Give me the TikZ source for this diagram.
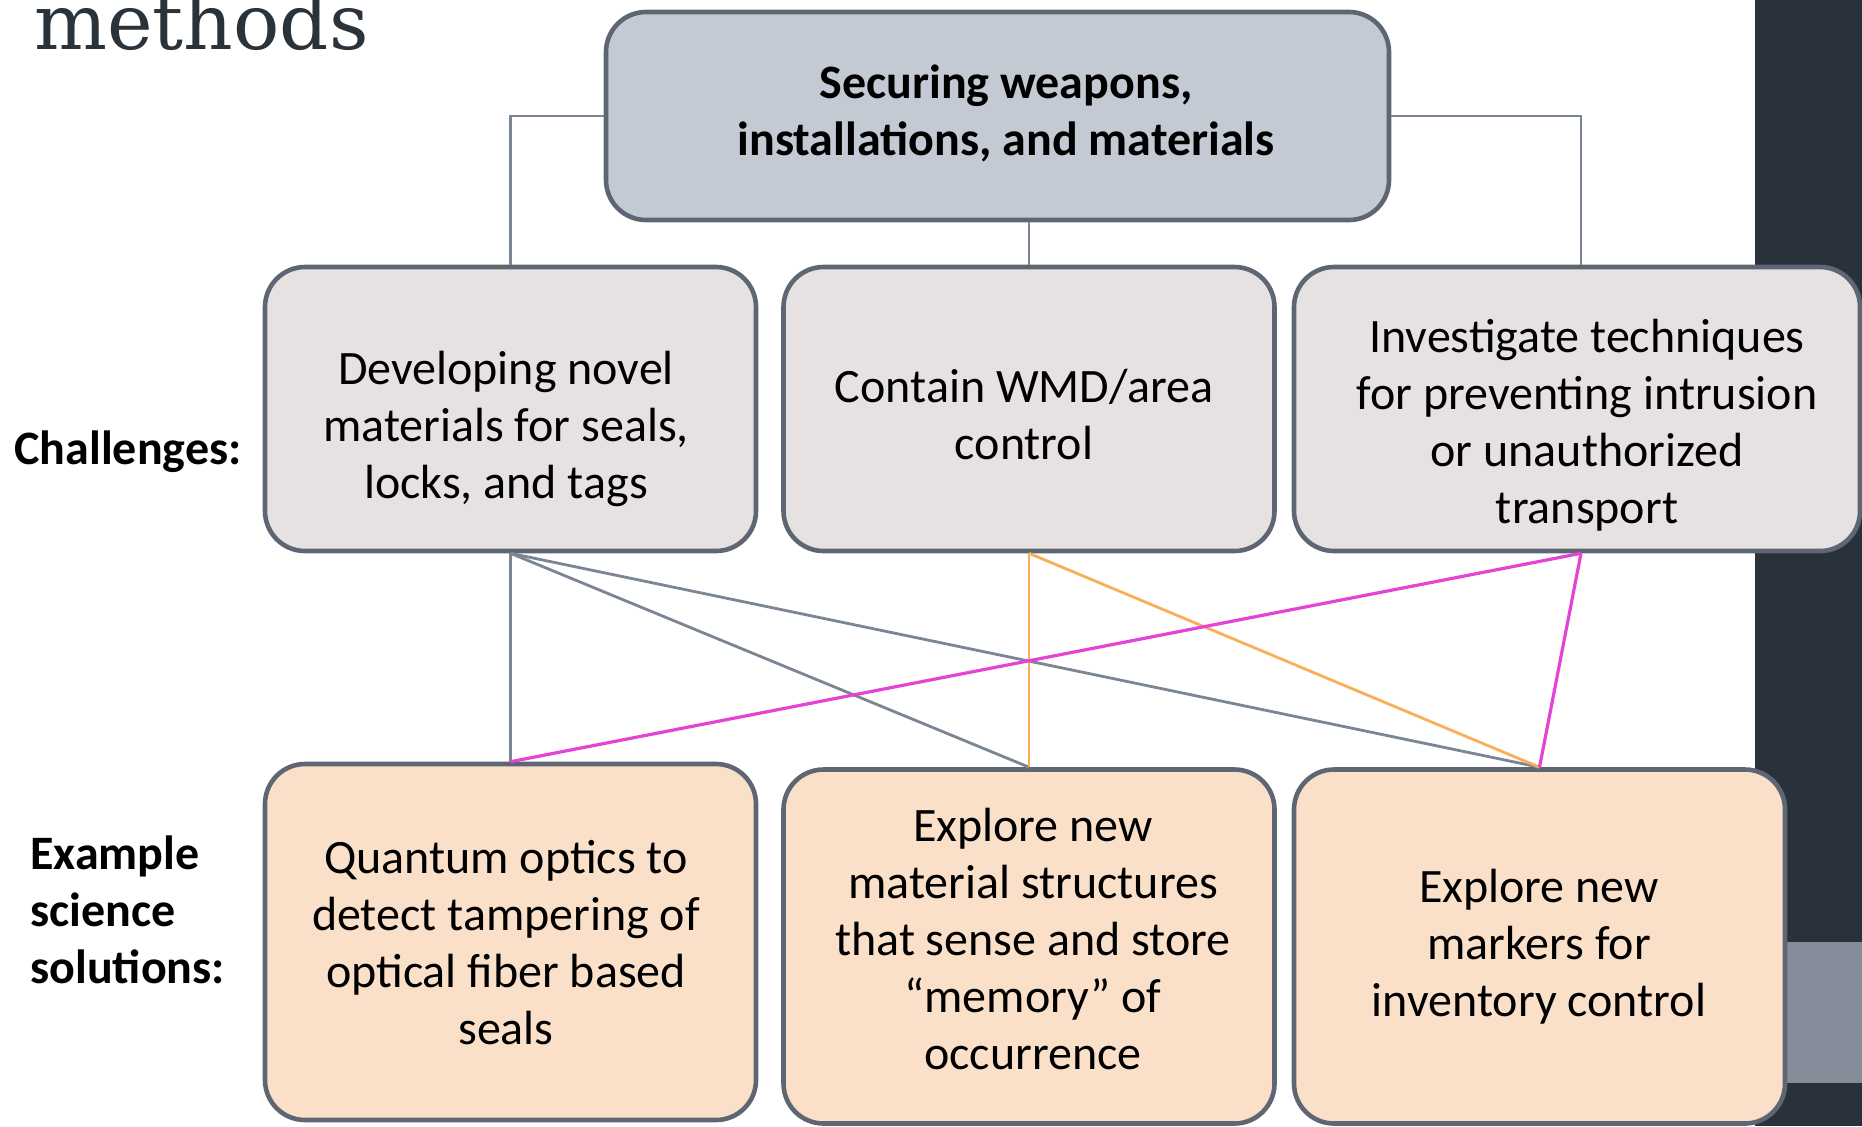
\documentclass[tikz,border=0pt]{standalone}
\usepackage{fontspec}
\setmainfont{Carlito}
\newfontfamily\headserif{DejaVu Serif}
\usepackage{xcolor}
\usetikzlibrary{calc}

\definecolor{topfill}{HTML}{C3CAD4}
\definecolor{chfill}{HTML}{E6E2E1}
\definecolor{solfill}{HTML}{FADFC9}
\definecolor{edge}{HTML}{5F6673}
\definecolor{tiegray}{HTML}{7C8593}
\definecolor{tieorange}{HTML}{F8AF57}
\definecolor{tiepink}{HTML}{E443D3}
\definecolor{panel}{HTML}{29313A}
\definecolor{strip}{HTML}{868D9A}
\definecolor{headink}{HTML}{2A323A}

\begin{document}
\begin{tikzpicture}[x=0.5pt,y=-0.5pt,
    box/.style={draw=edge,line width=2.3pt,rounded corners=20pt,inner sep=0pt},
    chbox/.style={box,fill=chfill,minimum width=245.5pt,minimum height=142pt},
    solbox/.style={box,fill=solfill,minimum width=245.5pt,minimum height=177pt},
    txt/.style={align=center,inner sep=0pt,font=\fontsize{24pt}{28.5pt}\selectfont},
    side/.style={txt,align=left,font=\fontsize{24pt}{28.5pt}\selectfont\bfseries},
    tie/.style={line width=1.4pt,draw=tiegray}]
  \path[use as bounding box,fill=white] (0,0) rectangle (1862,1126);
  \fill[panel] (1755,0) rectangle (1862,1126);
  \fill[strip] (1755,942) rectangle (1862,1083);

  \node[anchor=base west,inner sep=0pt,text=headink,
    font=\headserif\fontsize{38.5pt}{44pt}\selectfont] (head) at (34,49) {methods};

  % boxes
  \node[box,fill=topfill,minimum width=391.5pt,minimum height=104pt] (top) at (997.5,116) {};
  \node[chbox] (ch1) at (510.5,409) {};
  \node[chbox] (ch2) at (1029,409) {};
  \node[chbox,minimum width=283pt] (ch3) at (1577,409) {};
  \node[solbox,minimum height=178pt] (sol1) at (510.5,942) {};
  \node[solbox] (sol2) at (1029,946.5) {};
  \node[solbox] (sol3) at (1539.5,946.5) {};
  \coordinate (ch3top) at ([xshift=2pt]ch3.north);
  \coordinate (ch3foot) at ([xshift=2pt]ch3.south);

  % links to the top box
  \draw[tie] (top.west) -| (ch1.north);
  \draw[tie] (top.east) -| (ch3top);
  \draw[tie] (ch2.north |- top.south) -- (ch2.north);

  % challenges to solutions
  \draw[tie] (ch1.south) -- (sol1.north);
  \draw[tie] (ch1.south) -- (sol2.north);
  \draw[tie] (ch1.south) -- (sol3.north);
  \draw[tie,draw=tieorange] (ch2.south) -- (sol2.north);
  \draw[tie,draw=tieorange] (ch2.south) -- (sol3.north);
  \draw[tie,draw=tiepink,line width=1.6pt] (ch3foot) -- (sol1.north);
  \draw[tie,draw=tiepink,line width=1.6pt] (ch3foot) -- (sol3.north);

  \node[txt,font=\fontsize{24pt}{28.5pt}\selectfont\bfseries] (toptxt) at (1006,113)
    {Securing weapons,\\installations, and materials};
  \node[txt] (ch1txt) at (506,429) {Developing novel\\materials for seals,\\locks, and tags};
  \node[txt] (ch2txt) at (1024,414) {Contain WMD/area\\control};
  \node[txt] (ch3txt) at (1587,425)
    {Investigate techniques\\for preventing intrusion\\or unauthorized\\transport};
  \node[txt] (sol1txt) at (506,943)
    {Quantum optics to\\detect tampering of\\optical fiber based\\seals};
  \node[txt] (sol2txt) at (1033,939)
    {Explore new\\material structures\\that sense and store\\“memory” of\\occurrence};
  \node[txt] (sol3txt) at (1539,947) {Explore new\\markers for\\inventory control};

  \node[side,anchor=west] (chlabel) at (14,452) {Challenges:};
  \node[side,anchor=west] (sollabel) at (30,910) {Example\\science\\solutions:};
\end{tikzpicture}
\end{document}
